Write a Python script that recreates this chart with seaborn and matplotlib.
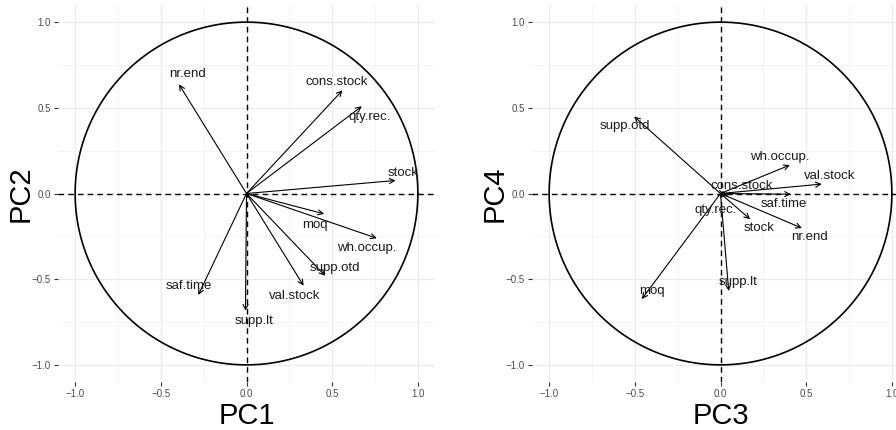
import numpy as np
import pandas as pd
import matplotlib as mpl
mpl.use('Agg')
import matplotlib.pyplot as plt
import seaborn as sns

# variable loadings
variables = ["nr.end", "cons.stock", "qty.rec.", "stock", "moq", "wh.occup.",
             "supp.otd", "val.stock", "saf.time", "supp.lt"]

pc1 = [-0.394, 0.560, 0.673, 0.870, 0.453, 0.760, 0.459, 0.333, -0.281, -0.006]
pc2 = [0.637, 0.602, 0.509, 0.076, -0.119, -0.261, -0.480, -0.538, -0.592, -0.684]
pc1_lab_x = [-0.345, 0.527, 0.721, 0.915, 0.401, 0.702, 0.517, 0.279, -0.335, 0.043]
pc1_lab_y = [0.696, 0.651, 0.446, 0.121, -0.181, -0.320, -0.437, -0.600, -0.542, -0.743]

pc3 = [0.475, 0.044, 0.025, 0.173, -0.459, 0.405, -0.504, 0.591, 0.411, 0.048]
pc4 = [-0.202, -0.013, -0.008, -0.150, -0.616, 0.166, 0.449, 0.055, -0.004, -0.569]
pc3_lab_x = [0.519, 0.126, -0.027, 0.224, -0.401, 0.343, -0.556, 0.637, 0.370, 0.102]
pc3_lab_y = [-0.253, 0.043, -0.095, -0.203, -0.567, 0.215, 0.392, 0.104, -0.062, -0.519]

ticks = [-1.0, -0.5, 0.0, 0.5, 1.0]
tick_labels = ["\u22121.0", "\u22120.5", "0.0", "0.5", "1.0"]

sns.set_theme(style="whitegrid")
plt.rcParams['font.family'] = ['Liberation Sans', 'DejaVu Sans']

fig = plt.figure(figsize=(8.96, 4.30), dpi=100)
ax1 = fig.add_axes([58 / 896, 48 / 430, 377 / 896, 377 / 430])
ax2 = fig.add_axes([532 / 896, 48 / 430, 377 / 896, 377 / 430])

theta = np.linspace(0, 2 * np.pi, 400)
circle = pd.DataFrame({"x": np.cos(theta), "y": np.sin(theta)})


def draw_panel(ax, xs, ys, lx, ly, xlab, ylab):
    ax.set_facecolor("white")
    ax.set_xlim(-1.1, 1.1)
    ax.set_ylim(-1.1, 1.1)
    ax.set_xticks(ticks)
    ax.set_yticks(ticks)
    ax.set_xticklabels(tick_labels)
    ax.set_yticklabels(tick_labels)
    ax.set_xticks([-0.75, -0.25, 0.25, 0.75], minor=True)
    ax.set_yticks([-0.75, -0.25, 0.25, 0.75], minor=True)
    ax.grid(which="major", color="#EBEBEB", linewidth=0.9)
    ax.grid(which="minor", color="#F3F3F3", linewidth=0.6)
    for s in ax.spines.values():
        s.set_visible(False)
    ax.tick_params(which="major", length=3, width=0.8, color="#333333",
                   labelsize=7, labelcolor="#4D4D4D", pad=2,
                   bottom=True, left=True)
    ax.tick_params(which="minor", length=0)

    sns.lineplot(data=circle, x="x", y="y", sort=False, estimator=None,
                 color="black", linewidth=1.2, ax=ax, zorder=3)
    ax.axhline(0, color="black", linestyle=(0, (4, 3)), linewidth=1.0, zorder=2)
    ax.axvline(0, color="black", linestyle=(0, (4, 3)), linewidth=1.0, zorder=2)

    for name, x, y, tx, ty in zip(variables, xs, ys, lx, ly):
        ax.annotate("", xy=(x, y), xytext=(0, 0),
                    arrowprops=dict(arrowstyle="->", color="black", lw=0.8,
                                    shrinkA=0, shrinkB=0,
                                    mutation_scale=9), zorder=4)
        ax.text(tx, ty, name, ha="center", va="center", fontsize=9.5,
                color="#1A1A1A", zorder=5)

    ax.set_xlabel(xlab, fontsize=21, labelpad=2, color="black")
    ax.set_ylabel(ylab, fontsize=21, labelpad=-2, color="black")


draw_panel(ax1, pc1, pc2, pc1_lab_x, pc1_lab_y, "PC1", "PC2")
draw_panel(ax2, pc3, pc4, pc3_lab_x, pc3_lab_y, "PC3", "PC4")

fig.savefig("out.png", dpi=100, facecolor="white")
